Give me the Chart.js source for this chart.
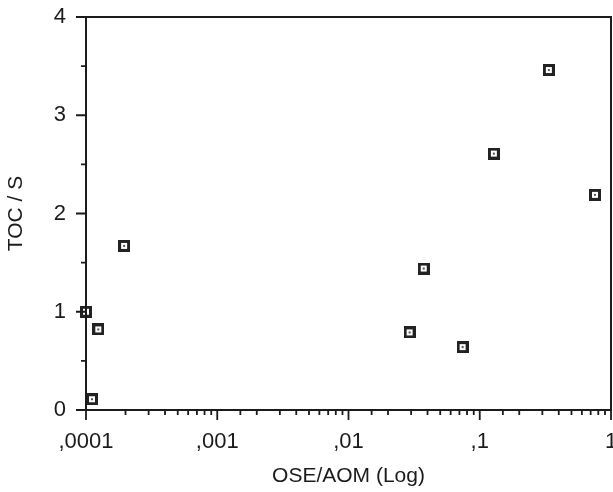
<!DOCTYPE html>
<html>
<head>
<meta charset="utf-8">
<script src="https://cdn.jsdelivr.net/npm/chart.js@4/dist/chart.umd.min.js"></script>
<style>
  html, body { margin: 0; padding: 0; background: #fff; }
  #wrap { width: 613px; height: 492px; }
</style>
</head>
<body>
<div id="wrap"><canvas id="chart" width="613" height="492"></canvas></div>
<script>
// values
const oseAom = [0.0001, 0.000124, 0.000111, 0.000195, 0.0292, 0.0374, 0.074, 0.128, 0.336, 0.755];
const tocS   = [1.00, 0.82, 0.11, 1.67, 0.79, 1.44, 0.64, 2.61, 3.46, 2.19];
const xLabels = { 0.0001: ',0001', 0.001: ',001', 0.01: ',01', 0.1: ',1', 1: '1' };
const yLabels = [0, 1, 2, 3, 4];

const INK = '#1b1b1b';
const FONT = '"Liberation Sans", Arial, Helvetica, sans-serif';

// little boxed square with a dot, like the original marker
function makeMarker() {
    const c = document.createElement('canvas');
    c.width = 12; c.height = 12;
    const g = c.getContext('2d');
    g.fillStyle = '#222';
    g.fillRect(0, 0, 12, 12);
    g.fillStyle = '#fff';
    g.fillRect(3, 3, 6, 6);
    g.fillStyle = '#555';
    g.fillRect(5, 5, 2, 2);
    return c;
}

const isDecade = (v) => Math.abs(Math.log10(v) - Math.round(Math.log10(v))) < 1e-6;
const decadeLabel = (v) => xLabels[Number(Number(v).toPrecision(1))] || '';

const frameAndTicks = {
    id: 'frameAndTicks',
    afterDraw(chart) {
        const { ctx, chartArea: a, scales: { x, y } } = chart;
        ctx.save();
        ctx.strokeStyle = INK;
        ctx.lineWidth = 2;
        ctx.strokeRect(a.left, a.top, a.right - a.left, a.bottom - a.top);
        ctx.lineWidth = 1.8;
        ctx.beginPath();
        x.ticks.forEach((t) => {
            const px = x.getPixelForValue(t.value);
            const len = isDecade(t.value) ? 10 : 5;
            ctx.moveTo(px, a.bottom);
            ctx.lineTo(px, a.bottom + len);
        });
        y.ticks.forEach((t) => {
            const py = y.getPixelForValue(t.value);
            const len = Number.isInteger(t.value) ? 10 : 5;
            ctx.moveTo(a.left, py);
            ctx.lineTo(a.left - len, py);
        });
        ctx.stroke();
        ctx.restore();
    },
};

new Chart(document.getElementById('chart'), {
    type: 'scatter',
    data: {
        datasets: [{
            data: oseAom.map((v, i) => ({ x: v, y: tocS[i] })),
            pointStyle: makeMarker(),
            pointRadius: 6,
            clip: false,
        }],
    },
    options: {
        responsive: false,
        animation: false,
        layout: { autoPadding: false, padding: { top: 17, right: 2, left: 0, bottom: 0 } },
        plugins: { legend: { display: false }, tooltip: { enabled: false } },
        scales: {
            x: {
                type: 'logarithmic',
                min: 0.0001,
                max: 1,
                afterFit: (s) => { s.height = 82; s.paddingLeft = 0; s.paddingRight = 0; },
                grid: { display: false, drawTicks: false },
                border: { display: false },
                ticks: {
                    autoSkip: false,
                    maxRotation: 0,
                    padding: 19,
                    color: INK,
                    font: { family: FONT, size: 22 },
                    callback: (v) => (isDecade(v) ? decadeLabel(v) : ''),
                },
                title: {
                    display: true,
                    text: 'OSE/AOM (Log)',
                    color: INK,
                    font: { family: FONT, size: 21 },
                    padding: { top: 2, bottom: 3 },
                },
            },
            y: {
                min: 0,
                max: 4,
                afterFit: (s) => { s.width = 86; s.paddingTop = 0; s.paddingBottom = 0; },
                grid: { display: false, drawTicks: false },
                border: { display: false },
                ticks: {
                    stepSize: 0.5,
                    padding: 20,
                    color: INK,
                    font: { family: FONT, size: 22 },
                    callback: (v) => (yLabels.includes(v) ? String(v) : ''),
                },
                title: {
                    display: true,
                    text: 'TOC / S',
                    color: INK,
                    font: { family: FONT, size: 21 },
                    padding: { top: 4, bottom: 0 },
                },
            },
        },
    },
    plugins: [frameAndTicks],
});
</script>
</body>
</html>
